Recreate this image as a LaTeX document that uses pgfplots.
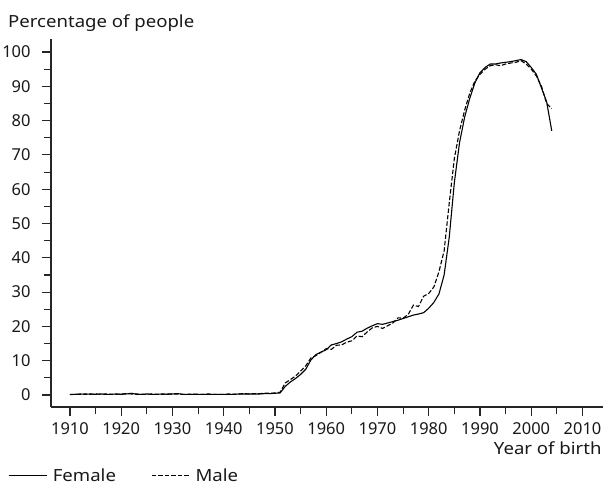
\documentclass[border=0pt]{standalone}
\usepackage{fontspec}
\setmainfont{Noto Sans}
\newfontfamily\labelfont[FakeStretch=1.11]{Noto Sans}
\usepackage{pgfplots}
\pgfplotsset{compat=1.18}
\newcommand{\chartfont}{\fontsize{16.5}{18}\selectfont}
\newcommand{\labfont}{\labelfont\fontsize{16.8}{18}\selectfont}
\begin{document}
\begin{tikzpicture}[x=1bp,y=1bp]
\useasboundingbox (-51,-78) rectangle (554,407);
\begin{axis}[
  at={(0,0)}, anchor=south west,
  scale only axis, width=552bp, height=368bp,
  xmin=1906.3, xmax=2014, ymin=-3.5, ymax=103.8,
  axis x line*=bottom, axis y line*=left,
  axis line style={line width=1.2bp, color=black!85},
  xtick={1910,1920,...,2010},
  minor xtick={1915,1925,...,2005},
  ytick={0,10,...,100},
  minor ytick={5,15,...,95},
  tick align=outside,
  major tick length=9bp, minor tick length=7bp,
  tick style={line width=1.1bp, color=black!85},
  /pgf/number format/assume math mode=true,
  /pgf/number format/1000 sep={},
  every tick label/.append style={font=\chartfont, color=black!90},
  xticklabel style={yshift=-3bp},
  yticklabel style={xshift=-8bp},
  legend style={draw=none, fill=none, at={(-0.0779,-0.186)}, anchor=west,
     inner sep=0pt, font=\labfont, text=black!90, nodes={inner sep=0pt},
     /tikz/every odd column/.append style={column sep=5.5bp},
     /tikz/every even column/.append style={column sep=35bp}},
  legend columns=2,
  legend image code/.code={\draw[#1] (0bp,0bp) -- (38bp,0bp);},
  clip=false,
]
\addplot[line width=1.1bp, black] coordinates {
(1910,0.2)(1911,0.2)(1912,0.3)(1913,0.2)(1914,0.3)(1915,0.2)(1916,0.3)(1917,0.2)(1918,0.2)(1919,0.3)
(1920,0.2)(1921,0.3)(1922,0.5)(1923,0.2)(1924,0.2)(1925,0.3)(1926,0.2)(1927,0.2)(1928,0.3)(1929,0.2)
(1930,0.3)(1931,0.4)(1932,0.2)(1933,0.2)(1934,0.2)(1935,0.2)(1936,0.2)(1937,0.2)(1938,0.2)(1939,0.2)
(1940,0.2)(1941,0.2)(1942,0.2)(1943,0.3)(1944,0.3)(1945,0.3)(1946,0.3)(1947,0.3)(1948,0.4)(1949,0.4)
(1950,0.5)(1951,0.6)(1952,2.5)(1953,3.8)(1954,4.8)(1955,6.0)(1956,7.5)(1957,10.2)(1958,11.8)(1959,12.5)
(1960,13.2)(1961,14.6)(1962,15.0)(1963,15.5)(1964,16.3)(1965,17.0)(1966,18.3)(1967,18.6)(1968,19.5)(1969,20.2)
(1970,20.8)(1971,20.6)(1972,21.0)(1973,21.4)(1974,21.8)(1975,22.3)(1976,22.8)(1977,23.3)(1978,23.6)(1979,24.0)
(1980,25.3)(1981,27.0)(1982,29.5)(1983,35.0)(1984,46.0)(1985,62.0)(1986,73.5)(1987,81.0)(1988,86.5)(1989,91.0)
(1990,94.0)(1991,95.5)(1992,96.5)(1993,96.5)(1994,96.8)(1995,97.0)(1996,97.2)(1997,97.5)(1998,97.8)(1999,97.2)
(2000,95.5)(2001,93.5)(2002,89.5)(2003,85.5)(2004,77.0)
};
\addlegendentry{Female}
\addplot[line width=1.1bp, black, dash pattern=on 4.5bp off 2bp] coordinates {
(1910,0.1)(1911,0.2)(1912,0.2)(1913,0.3)(1914,0.2)(1915,0.3)(1916,0.2)(1917,0.3)(1918,0.2)(1919,0.2)
(1920,0.3)(1921,0.4)(1922,0.3)(1923,0.3)(1924,0.2)(1925,0.2)(1926,0.3)(1927,0.2)(1928,0.2)(1929,0.3)
(1930,0.3)(1931,0.3)(1932,0.2)(1933,0.2)(1934,0.3)(1935,0.2)(1936,0.2)(1937,0.3)(1938,0.2)(1939,0.2)
(1940,0.2)(1941,0.3)(1942,0.2)(1943,0.3)(1944,0.4)(1945,0.3)(1946,0.4)(1947,0.4)(1948,0.5)(1949,0.5)
(1950,0.6)(1951,0.8)(1952,3.5)(1953,4.5)(1954,5.5)(1955,7.0)(1956,8.5)(1957,10.8)(1958,11.5)(1959,12.5)
(1960,13.5)(1961,13.3)(1962,14.5)(1963,14.6)(1964,15.4)(1965,15.8)(1966,17.2)(1967,17.0)(1968,18.4)(1969,19.6)
(1970,20.0)(1971,19.4)(1972,20.2)(1973,21.0)(1974,22.5)(1975,22.4)(1976,23.5)(1977,26.2)(1978,25.8)(1979,28.8)
(1980,29.6)(1981,31.5)(1982,36.0)(1983,42.0)(1984,56.0)(1985,69.0)(1986,77.0)(1987,83.0)(1988,88.0)(1989,91.5)
(1990,93.5)(1991,95.0)(1992,96.0)(1993,96.3)(1994,96.0)(1995,96.5)(1996,96.8)(1997,97.0)(1998,97.5)(1999,96.5)
(2000,95.0)(2001,93.0)(2002,90.0)(2003,85.0)(2004,83.5)
};
\addlegendentry{Male}
\end{axis}
\node[anchor=base west, inner sep=0pt, font=\labfont, text=black!90] at (-43,379.7) {Percentage of people};
\node[anchor=base east, inner sep=0pt, font=\labfont, text=black!90] at (550.7,-48) {Year of birth};
\end{tikzpicture}
\end{document}
